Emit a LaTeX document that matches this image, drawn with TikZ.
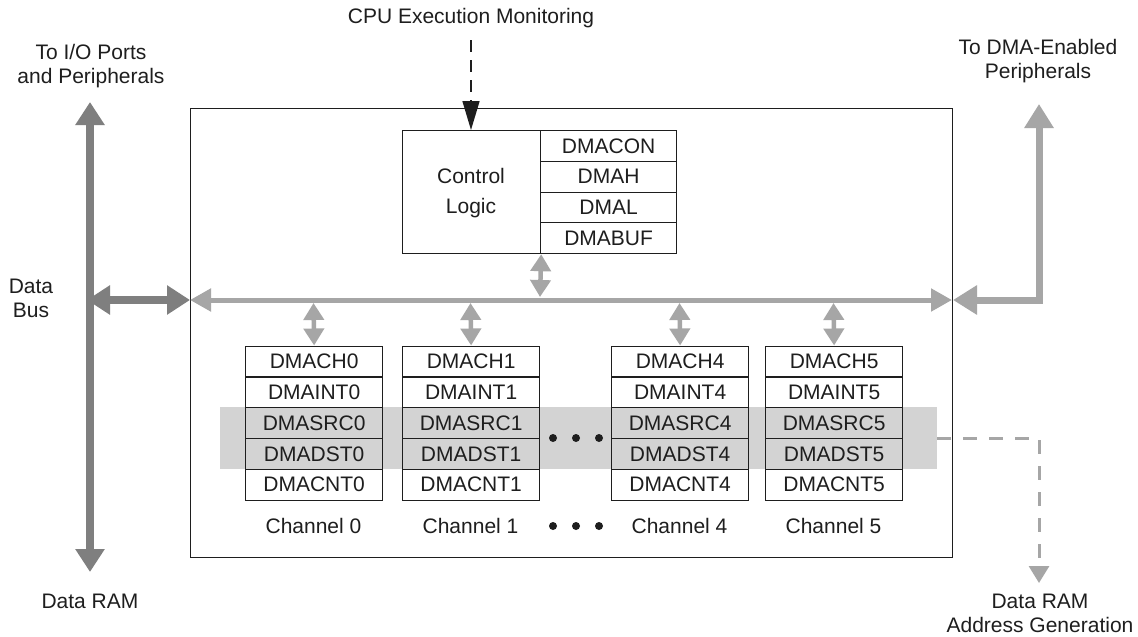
\documentclass[tikz,border=0pt]{standalone}
\usepackage{fontspec}
\setmainfont{Liberation Sans}
\usetikzlibrary{arrows.meta}
\definecolor{darkbus}{HTML}{7F7F7F}
\definecolor{lightbus}{HTML}{A6A6A6}
\definecolor{band}{HTML}{D3D3D3}
\definecolor{ink}{HTML}{1E1E1E}
\tikzset{
  lbl/.style={font=\fontsize{21}{24}\selectfont, text=ink, align=center, inner sep=0pt},
  regbox/.style={draw=ink, line width=1.2pt, minimum width=137pt, minimum height=30.8pt, inner sep=0pt, font=\fontsize{21}{24}\selectfont, text=ink, anchor=north west},
  ctlreg/.style={draw=ink, line width=1.2pt, minimum width=136pt, minimum height=30.75pt, inner sep=0pt, font=\fontsize{21}{24}\selectfont, text=ink, anchor=north west},
  darkarrow/.style={draw=darkbus, line width=8pt, {Triangle[width=28pt,length=23pt]}-{Triangle[width=28pt,length=23pt]}},
  busarrow/.style={draw=lightbus, line width=5pt, {Triangle[width=22pt,length=21pt]}-{Triangle[width=22pt,length=21pt]}},
  periarrow/.style={draw=lightbus, line width=7pt, line join=miter, {Triangle[width=28pt,length=24pt]}-{Triangle[width=28pt,length=24pt]}},
  smallarrow/.style={draw=lightbus, line width=4.5pt, {Triangle[width=20pt,length=17pt]}-{Triangle[width=20pt,length=17pt]}},
  dot/.style={circle, fill=ink, inner sep=0pt, minimum size=8pt},
}
\begin{document}
\begin{tikzpicture}[x=1pt,y=-1pt]
\useasboundingbox (0,0) rectangle (1138,637);
\fill[white] (0,0) rectangle (1138,637);

% gray band behind the channel registers
\fill[band] (220,407) rectangle (937,468.5);

% main DMA box
\node[draw=ink, line width=1.2pt, minimum width=762pt, minimum height=449pt, inner sep=0pt, anchor=north west] (dma) at (190,108) {};

% control logic and registers
\node[draw=ink, line width=1.2pt, minimum width=138pt, minimum height=123pt, inner sep=0pt, anchor=north west] (ctl) at (402,130) {};
\node[lbl] (ctltext) at (471,193) {Control\\[6pt]Logic};
\node[ctlreg] (dmacon) at (540,130) {DMACON};
\node[ctlreg] (dmah) at (540,160.75) {DMAH};
\node[ctlreg] (dmal) at (540,191.5) {DMAL};
\node[ctlreg] (dmabuf) at (540,222.25) {DMABUF};

% channels
\foreach \n/\x in {0/245,1/402,4/611,5/765}{
  \node[regbox] (ch\n a) at (\x,345.5) {DMACH\n};
  \node[regbox] (ch\n b) at (\x,376.3) {DMAINT\n};
  \node[regbox] (ch\n c) at (\x,407.1) {DMASRC\n};
  \node[regbox] (ch\n d) at (\x,437.9) {DMADST\n};
  \node[regbox] (ch\n e) at (\x,468.7) {DMACNT\n};
  \node[lbl] (chl\n) at (\x+68.5,526) {Channel \n};
}

% ellipsis dots
\node[dot] (d1) at (553,438) {};
\node[dot] (d2) at (576,438) {};
\node[dot] (d3) at (599,438) {};
\node[dot] (e1) at (553,526) {};
\node[dot] (e2) at (576,526) {};
\node[dot] (e3) at (599,526) {};

% internal bus
\coordinate (busL) at (190,300);
\coordinate (busR) at (952,300);
\draw[busarrow] (busL) -- (busR);

% small arrows to bus
\coordinate (cb) at (540,297);
\draw[smallarrow] (ctl.south east) -- (cb);
\foreach \n/\x in {0/313.5,1/470.5,4/679.5,5/833.5}{
  \coordinate (t\n) at (\x,303);
  \draw[smallarrow] (t\n) -- (ch\n a.north);
}

% data bus (left)
\coordinate (dbTop) at (90,102);
\coordinate (dbBot) at (90,572);
\coordinate (dbMid) at (87,300);
\draw[darkarrow] (dbMid) -- (busL);
\draw[darkarrow] (dbTop) -- (dbBot);

% DMA-enabled peripherals (right)
\coordinate (peTop) at (1039,104);
\coordinate (peStart) at (953,300);
\draw[periarrow] (peStart) -| (peTop);

% CPU execution monitoring
\node[lbl] (cpu) at (471,18) {CPU Execution Monitoring};
\coordinate (cpuS) at (471,40);
\draw[ink, line width=1.5pt, dash pattern=on 12pt off 8pt, -{Triangle[width=17pt,length=29pt]}] (cpuS) -- (ctl.north -| cpuS);

% address generation dashed arrow
\coordinate (bandR) at (937,438);
\coordinate (agTip) at (1039,583);
\draw[lightbus, line width=3pt, dash pattern=on 14pt off 12pt, -{Triangle[width=20pt,length=17pt]}] (bandR) -| (agTip);

% labels
\node[lbl] (io) at (91,66) {To I/O Ports\\and Peripherals};
\node[lbl] (per) at (1038,61.5) {To DMA-Enabled\\Peripherals};
\node[lbl] (dbus) at (31,298) {Data\\Bus};
\node[lbl] (dram) at (90,601) {Data RAM};
\node[lbl] (ag) at (1040,613.5) {Data RAM\\Address Generation};
\end{tikzpicture}
\end{document}
